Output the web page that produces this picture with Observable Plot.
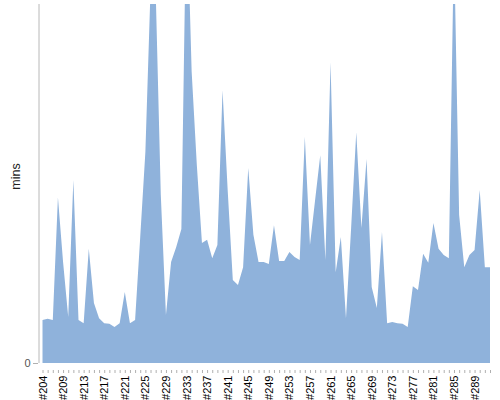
<!DOCTYPE html>
<html>
<head>
<meta charset="utf-8">
<script src="https://cdn.jsdelivr.net/npm/d3@7"></script>
<script src="https://cdn.jsdelivr.net/npm/@observablehq/plot@0.6"></script>
<style>
  html, body { margin: 0; padding: 0; background: #fff; }
</style>
</head>
<body>
<div id="chart"></div>
<script>
const categories = ["#204","#205","#206","#208","#209","#210","#211","#212","#213","#214","#215","#216",
  "#217","#218","#219","#220","#221","#222","#223","#224","#225","#226","#227","#228",
  "#229","#230","#231","#232","#233","#234","#235","#236","#237","#238","#239","#240",
  "#241","#242","#243","#244","#245","#246","#247","#248","#249","#250","#251","#252",
  "#253","#254","#255","#256","#257","#258","#259","#260","#261","#262","#263","#264",
  "#265","#266","#267","#268","#269","#270","#271","#272","#273","#274","#275","#276",
  "#277","#278","#279","#280","#281","#282","#283","#284","#285","#286","#287","#288",
  "#289","#290","#291","#292"];
const mins = [12.0,12.3,12.0,46.2,28.1,12.8,51.0,12.0,11.1,31.8,16.7,12.5,
  11.1,10.9,10.0,11.1,19.8,11.1,12.0,35.1,58.8,103.9,103.9,46.8,
  13.4,28.1,32.3,37.3,131.8,81.1,55.2,33.4,34.3,29.2,32.9,76.0,
  48.2,23.1,21.7,26.7,54.3,35.7,28.1,28.1,27.6,38.4,28.4,28.4,
  30.9,29.5,28.7,63.0,32.9,45.4,57.9,28.7,83.8,25.3,35.1,12.5,
  37.6,64.3,37.6,56.8,21.2,15.3,36.5,11.1,11.4,11.1,10.9,10.0,
  21.4,20.3,30.4,27.9,39.0,31.8,30.1,29.2,117.5,41.2,26.7,30.1,
  31.5,48.2,26.7,26.7];
const yTicks = [0];
const yLabel = "mins";

const data = categories.map((c, i) => ({build: c, mins: mins[i]}));
const labelled = new Set(categories.filter((d, i) => i % 4 === 0));

const chart = Plot.plot({
  width: 500,
  height: 400,
  marginLeft: 38,
  marginRight: 10,
  marginTop: 4,
  marginBottom: 33.5,
  style: {fontFamily: "'Liberation Sans', Arial, sans-serif", fontSize: "11px", background: "#fff", color: "#000"},
  x: {type: "point", domain: categories, padding: 0, round: false, range: [42.5, 490]},
  y: {domain: [0, 100], range: [363, 4]},
  marks: [
    Plot.areaY(data, {x: "build", y: "mins", fill: "#8fb2db", clip: "frame", curve: "linear"}),
    Plot.ruleY([0], {x1: categories[0], x2: categories[categories.length - 1], dy: 3.5, stroke: "#b0b0b0"}),
    Plot.axisX({ticks: categories, tickSize: 3, tickPadding: 2, tickRotate: -90, dy: 3.5,
      tickFormat: d => labelled.has(d) ? d : "", label: null, stroke: "#b0b0b0", fill: "#000", fontSize: 11}),
    Plot.ruleX([categories[0]], {x: d => d, y1: 0, y2: 100, dx: -4, stroke: "#b8b8b8"}),
    Plot.axisY({ticks: yTicks, tickSize: 5, tickPadding: 3, label: null, stroke: "#b0b0b0", fill: "#555", fontSize: 11}),
    Plot.text([yLabel], {frameAnchor: "left", rotate: -90, dx: -23, dy: 4, fontSize: 12.5, fill: "#222"})
  ]
});
document.getElementById("chart").appendChild(chart);
</script>
</body>
</html>
